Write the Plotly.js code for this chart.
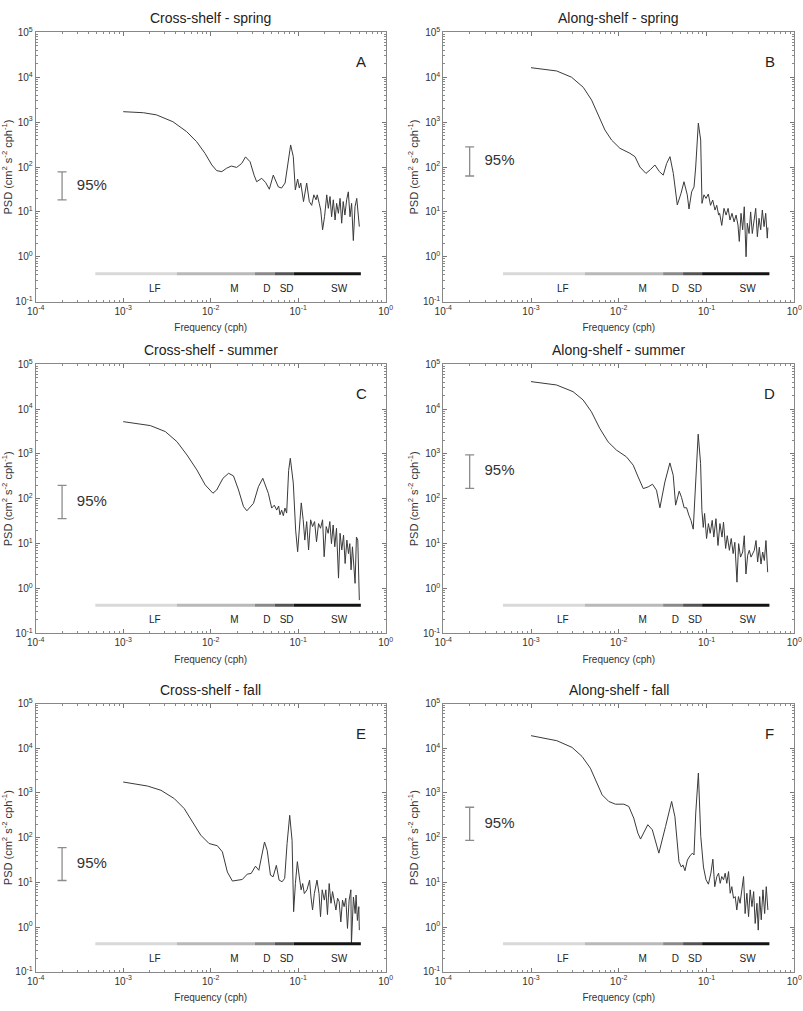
<!DOCTYPE html>
<html>
<head>
<meta charset="utf-8">
<script src="https://cdn.plot.ly/plotly-3.0.1.min.js"></script>
<style>
  html, body { margin: 0; padding: 0; background: #fff; }
  #chart { width: 803px; height: 1011px; }
</style>
</head>
<body>
<div id="chart"></div>
<script>
// Power spectral density of current components (cm^2 s^-2 cph^-1) versus frequency (cph)

const freqA = [0.001,0.0017,0.0024,0.0037,0.0053,0.0069,0.0086,0.0103,0.0117,0.0134,0.0152,0.0172,0.0198,0.0226,0.025,0.0282,0.0313,0.0335,0.0383,0.0425,0.0468,0.0519,0.0593,0.0646,0.0708,0.0778,0.082,0.0879,0.0927,0.0986,0.103,0.107,0.115,0.125,0.134,0.1426,0.151,0.16,0.165,0.174,0.181,0.19,0.2,0.212,0.221,0.231,0.241,0.252,0.264,0.275,0.288,0.301,0.314,0.327,0.342,0.358,0.374,0.391,0.408,0.427,0.446,0.467,0.486,0.5];
const psdA = [1710,1620,1450,1020,615,367,202,111,83,79,94,105,98,120,168,131,66,47,56,45,32,66,36,34,44,144,310,170,31,54,34,44,17,44,17,14,24,18.6,24,15.5,11,4.0,7.8,24,12,22,7.8,18.6,6.6,15.5,9.3,20,5.6,17,8.5,18.6,28,7.8,15.5,2.3,13,20,10,4.7];

const freqB = [0.001,0.00196,0.0029,0.00394,0.0049,0.00583,0.00695,0.00828,0.0103,0.0134,0.0153,0.0174,0.0204,0.0231,0.0258,0.029,0.0321,0.0351,0.0383,0.0418,0.0464,0.0512,0.0553,0.0603,0.0631,0.0676,0.072,0.0752,0.0806,0.0857,0.0887,0.0935,0.0986,0.1047,0.111,0.1175,0.1248,0.1306,0.1374,0.141,0.149,0.158,0.167,0.176,0.185,0.195,0.206,0.217,0.228,0.236,0.247,0.258,0.269,0.282,0.291,0.305,0.318,0.332,0.347,0.363,0.379,0.396,0.414,0.432,0.452,0.472,0.492,0.5];
const psdB = [16300,13800,10000,5960,3100,1440,668,398,261,202,170,100,72,89,111,79,66,120,170,72,14.3,26,47,24,11.6,28,36,100,950,398,15.5,24,20,25,14,18.4,11,14,8.5,9.3,5,12,8.5,12,6.6,9.3,6,8.5,5.1,2.2,9.3,4,13,1.0,5.6,3.3,10,3.3,5.6,12,2.8,7.2,4,11,4.7,9.3,2.6,4.5];

const freqC = [0.001,0.00204,0.00303,0.00411,0.00535,0.00695,0.00865,0.0106,0.0117,0.0138,0.016,0.0182,0.0208,0.0237,0.0259,0.0308,0.0351,0.0394,0.0456,0.0498,0.0533,0.0568,0.0598,0.0619,0.0647,0.0676,0.0706,0.0738,0.0778,0.0813,0.0879,0.0935,0.0986,0.104,0.1084,0.114,0.119,0.125,0.1315,0.1387,0.146,0.154,0.162,0.171,0.18,0.19,0.198,0.209,0.22,0.23,0.24,0.251,0.262,0.274,0.289,0.301,0.315,0.33,0.344,0.36,0.376,0.389,0.402,0.417,0.432,0.447,0.463,0.48,0.5];
const psdC = [5250,4290,3150,1880,950,440,204,133,157,286,370,324,157,67,54,79,186,286,132,62,72,56,69,44,56,42,62,48,430,800,224,20,6.6,26,81,34,12,31,7.2,34,24,31,11,28,22,34,5.1,24,17,31,10,26,8.5,22,1.7,17,7.2,15.5,3.6,12,6.0,10,2.6,8.5,3.6,1.3,14,12,0.55];

const freqD = [0.001,0.00195,0.00301,0.00392,0.00488,0.00607,0.00755,0.0094,0.0122,0.0146,0.0166,0.019,0.0216,0.0242,0.0269,0.0294,0.0335,0.0382,0.0417,0.0444,0.0488,0.0519,0.0556,0.0592,0.0629,0.0664,0.0705,0.0756,0.0803,0.0855,0.0885,0.0917,0.095,0.1,0.105,0.11,0.116,0.121,0.128,0.135,0.142,0.15,0.156,0.165,0.172,0.182,0.191,0.201,0.21,0.222,0.232,0.244,0.258,0.269,0.281,0.294,0.307,0.321,0.335,0.35,0.366,0.382,0.399,0.417,0.436,0.455,0.475,0.497];
const psdD = [41000,34500,24500,16000,8700,3710,1860,1220,863,562,308,169,184,211,155,63,237,630,335,72,148,107,63,63,43,33,21,436,2760,617,55,23,47,13,28,17,33,14,36,9.1,28,14,30,7.8,15,7.1,13,6.0,10.7,1.38,10,5.0,6.5,15,2.1,5.5,7.1,5.0,6.0,7.1,11.7,3.9,8.3,3.5,6.5,4.2,11.7,2.3];

const freqE = [0.001,0.0019,0.0027,0.00383,0.00497,0.00618,0.00769,0.00957,0.0119,0.0136,0.0155,0.0177,0.0201,0.023,0.0262,0.029,0.0325,0.0355,0.0412,0.0442,0.0482,0.0517,0.0563,0.0605,0.0655,0.0701,0.0746,0.08,0.0851,0.0887,0.0929,0.0978,0.103,0.108,0.1125,0.1175,0.126,0.135,0.14,0.146,0.153,0.164,0.173,0.18,0.188,0.199,0.207,0.216,0.226,0.237,0.247,0.258,0.27,0.282,0.294,0.307,0.321,0.335,0.35,0.366,0.382,0.4,0.406,0.428,0.448,0.459,0.475,0.493,0.5];
const psdE = [1760,1430,1150,750,450,226,114,74,66,48,17,10.7,11,11.6,15.3,15.8,23,18.6,80,52,14.5,13.3,24,11.2,10.3,12.3,74,316,87,2.2,9.4,29,13.2,6.8,9.4,5.6,6.8,11.2,4.7,2.4,5.6,11.2,5.6,1.7,6.8,4.0,6.8,1.9,9.4,3.4,6.2,4.0,2.4,4.4,3.7,1.3,4.0,2.85,4.4,0.93,4.0,6.8,0.42,4.7,2.0,5.2,1.4,2.85,0.85];

const freqF = [0.001,0.00197,0.00293,0.00381,0.00474,0.00565,0.00646,0.00769,0.00916,0.0114,0.013,0.0148,0.0165,0.0177,0.0214,0.0241,0.0286,0.0341,0.04,0.0436,0.0485,0.0516,0.0538,0.0568,0.0605,0.0647,0.069,0.0719,0.0753,0.0807,0.0859,0.0922,0.0986,0.105,0.112,0.118,0.124,0.131,0.137,0.143,0.149,0.156,0.163,0.17,0.178,0.186,0.194,0.203,0.212,0.221,0.231,0.241,0.252,0.264,0.275,0.288,0.301,0.314,0.329,0.344,0.358,0.375,0.388,0.403,0.42,0.439,0.459,0.479,0.5];
const psdF = [19200,14800,10500,6600,3600,1660,910,646,562,562,500,274,126,93,195,150,45,178,646,295,29,22,24.5,18.2,31.6,39,45,41,355,2790,106,22,11.4,9.1,16,33,8.0,13.5,16,9.5,13.5,11.4,16,9.5,17.4,5.7,8.0,4.4,4.8,2.4,4.8,3.4,8.0,13.5,2.0,5.7,1.7,6.8,2.85,6.2,1.2,3.4,0.85,4.8,1.45,6.8,2.0,8.0,2.4];

// 95% confidence interval [low, high] for each panel
const ciA = [18.5, 78];
const ciB = [63, 282];
const ciC = [36, 200];
const ciD = [170, 950];
const ciE = [11, 60];
const ciF = [87, 480];

// Frequency bands: low-frequency, meso, diurnal, semidiurnal, short-wave
const bandNames = ['LF', 'M', 'D', 'SD', 'SW'];
const bandEdges = [4.8e-4, 4.1e-3, 0.032, 0.054, 0.089, 0.52];
const bandLabelFreq = [2.3e-3, 0.0187, 0.044, 0.0738, 0.294];
const bandColors = ['#d9d9d9', '#b9b9b9', '#8a8a8a', '#555555', '#141414'];
const bandLevel = 0.42;
const bandLabelLevel = 0.19;

const xTickVals = [1e-4, 1e-3, 1e-2, 1e-1, 1];
const xTickText = ['10<sup>-4</sup>', '10<sup>-3</sup>', '10<sup>-2</sup>', '10<sup>-1</sup>', '10<sup>0</sup>'];
const yTickVals = [1e-1, 1, 10, 100, 1e3, 1e4, 1e5];
const yTickText = ['10<sup>-1</sup>', '10<sup>0</sup>', '10<sup>1</sup>', '10<sup>2</sup>', '10<sup>3</sup>', '10<sup>4</sup>', '10<sup>5</sup>'];

const panels = [
  { letter: 'A', title: 'Cross-shelf - spring', f: freqA, p: psdA, ci: ciA },
  { letter: 'B', title: 'Along-shelf - spring', f: freqB, p: psdB, ci: ciB },
  { letter: 'C', title: 'Cross-shelf - summer', f: freqC, p: psdC, ci: ciC },
  { letter: 'D', title: 'Along-shelf - summer', f: freqD, p: psdD, ci: ciD },
  { letter: 'E', title: 'Cross-shelf - fall', f: freqE, p: psdE, ci: ciE },
  { letter: 'F', title: 'Along-shelf - fall', f: freqF, p: psdF, ci: ciF }
];

// layout geometry
const colDomains = [[0.0445, 0.4803], [0.552, 0.9892]];
const rowDomains = [[0.7016, 0.968], [0.3736, 0.6397], [0.0389, 0.304]];

function minorTicks(lo, hi) {
  const v = [];
  for (let e = lo; e < hi; e++) {
    for (let k = 2; k <= 9; k++) v.push(k * Math.pow(10, e));
  }
  return v;
}
const minorX = minorTicks(-4, 0);
const minorY = minorTicks(-1, 5);

const FONT = 'Liberation Sans, Arial, sans-serif';
const traces = [];
const layout = {
  width: 803, height: 1011,
  margin: { l: 0, r: 0, t: 0, b: 0 },
  paper_bgcolor: '#fff', plot_bgcolor: '#fff',
  showlegend: false,
  font: { family: FONT, color: '#333' },
  annotations: []
};

panels.forEach((pan, i) => {
  const n = i + 1;
  const xs = n === 1 ? 'x' : 'x' + n;
  const ys = n === 1 ? 'y' : 'y' + n;
  const col = i % 2, row = Math.floor(i / 2);

  layout[n === 1 ? 'xaxis' : 'xaxis' + n] = {
    type: 'log', range: [-4, 0], domain: colDomains[col], anchor: ys,
    tickmode: 'array', tickvals: xTickVals, ticktext: xTickText,
    ticks: 'inside', ticklen: 4, tickwidth: 1, tickcolor: '#777',
    showline: true, linecolor: '#888', linewidth: 1, mirror: 'allticks',
    showgrid: false, zeroline: false,
    tickfont: { size: 10, color: '#333', family: FONT },
    title: { text: 'Frequency (cph)', font: { size: 10, color: '#333', family: FONT }, standoff: 8 },
    minor: { tickmode: 'array', tickvals: minorX, ticks: 'inside', ticklen: 2, tickcolor: '#888', showgrid: false }
  };
  layout[n === 1 ? 'yaxis' : 'yaxis' + n] = {
    type: 'log', range: [-1, 5], domain: rowDomains[row], anchor: xs,
    tickmode: 'array', tickvals: yTickVals, ticktext: yTickText,
    ticks: 'inside', ticklen: 4, tickwidth: 1, tickcolor: '#777',
    showline: true, linecolor: '#888', linewidth: 1, mirror: 'allticks',
    showgrid: false, zeroline: false,
    tickfont: { size: 10, color: '#333', family: FONT },
    title: { text: 'PSD (cm<sup>2</sup> s<sup>-2</sup> cph<sup>-1</sup>)', font: { size: 11, color: '#333', family: FONT }, standoff: 2 },
    minor: { tickmode: 'array', tickvals: minorY, ticks: 'inside', ticklen: 2, tickcolor: '#888', showgrid: false }
  };

  // spectrum
  traces.push({
    type: 'scatter', mode: 'lines', x: pan.f, y: pan.p, xaxis: xs, yaxis: ys,
    line: { color: '#3a3a3a', width: 1 }, hoverinfo: 'skip'
  });

  // frequency band bar
  bandNames.forEach((name, b) => {
    traces.push({
      type: 'scatter', mode: 'lines',
      x: [bandEdges[b], bandEdges[b + 1]], y: [bandLevel, bandLevel],
      xaxis: xs, yaxis: ys,
      line: { color: bandColors[b], width: 3 }, hoverinfo: 'skip'
    });
  });
  traces.push({
    type: 'scatter', mode: 'text', x: bandLabelFreq, y: bandNames.map(() => bandLabelLevel),
    text: bandNames, textposition: 'middle center', xaxis: xs, yaxis: ys,
    textfont: { size: 10, color: '#222', family: FONT }, hoverinfo: 'skip'
  });

  // 95% confidence bar
  const mid = Math.sqrt(pan.ci[0] * pan.ci[1]);
  traces.push({
    type: 'scatter', mode: 'markers', x: [2e-4], y: [mid], xaxis: xs, yaxis: ys,
    marker: { size: 1, color: 'rgba(0,0,0,0)' },
    error_y: { type: 'data', symmetric: false, array: [pan.ci[1] - mid], arrayminus: [mid - pan.ci[0]],
               color: '#8c8c8c', thickness: 1.3, width: 4.5 },
    hoverinfo: 'skip'
  });
  traces.push({
    type: 'scatter', mode: 'text', x: [2.95e-4], y: [mid], xaxis: xs, yaxis: ys,
    text: ['95%'], textposition: 'middle right',
    textfont: { size: 15, color: '#333', family: FONT }, hoverinfo: 'skip'
  });

  layout.annotations.push({
    text: pan.title, xref: xs + ' domain', yref: ys + ' domain', x: 0.5, y: 1,
    xanchor: 'center', yanchor: 'bottom', yshift: 4, showarrow: false,
    font: { size: 14, color: '#222', family: FONT }
  });
  layout.annotations.push({
    text: pan.letter, xref: xs + ' domain', yref: ys + ' domain', x: 0.93, y: 0.89,
    xanchor: 'center', yanchor: 'middle', showarrow: false,
    font: { size: 15, color: '#222', family: FONT }
  });
});

Plotly.newPlot('chart', traces, layout, { staticPlot: true, displayModeBar: false });
</script>
</body>
</html>
